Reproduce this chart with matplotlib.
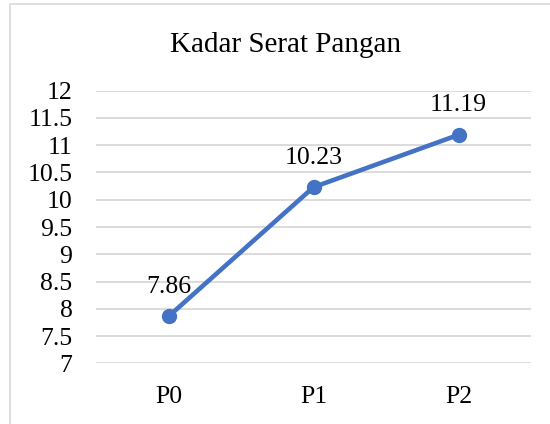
import matplotlib.pyplot as plt
from matplotlib.patches import Rectangle

# data
perlakuan = ['P0', 'P1', 'P2']
serat = [7.86, 10.23, 11.19]
y_ticks = [7, 7.5, 8, 8.5, 9, 9.5, 10, 10.5, 11, 11.5, 12]

plt.rcParams['font.family'] = ['Liberation Serif', 'DejaVu Serif']

fig = plt.figure(figsize=(5.5, 4.24), dpi=100)
ax = fig.add_axes([96 / 550, 1 - 363.3 / 424, 435 / 550, 272.6 / 424])

# chart frame (runs off the right and bottom edge)
fig.patches.append(Rectangle((10 / 550, -0.1), 1.2, 1 - 4 / 424 + 0.1,
                             transform=fig.transFigure, fill=False,
                             edgecolor='#D9D9D9', linewidth=1.2))

x = range(len(perlakuan))
ax.plot(x, serat, color='#4472C4', linewidth=3.3, marker='o', markersize=10,
        solid_capstyle='round', zorder=3)

for xi, v in zip(x, serat):
    ax.annotate(f'{v:.2f}', (xi, v), xytext=(0, 17), textcoords='offset points',
                ha='center', va='baseline', fontsize=18.5, color='black')

ax.set_xlim(-0.5, 2.5)
ax.set_ylim(7, 12)
ax.set_xticks(list(x))
ax.set_xticklabels(perlakuan)
ax.set_yticks(y_ticks)
ax.set_yticklabels([f'{t:g}' for t in y_ticks])
ax.tick_params(axis='both', length=0, labelsize=18.5)
ax.tick_params(axis='y', pad=17)
ax.tick_params(axis='x', pad=16)

ax.grid(axis='y', color='#D9D9D9', linewidth=1.3)
ax.set_axisbelow(True)
for s in ax.spines.values():
    s.set_visible(False)

fig.text(285.5 / 550, 1 - 52 / 424, 'Kadar Serat Pangan', ha='center',
         va='baseline', fontsize=21)

fig.savefig('out.png', dpi=100)
